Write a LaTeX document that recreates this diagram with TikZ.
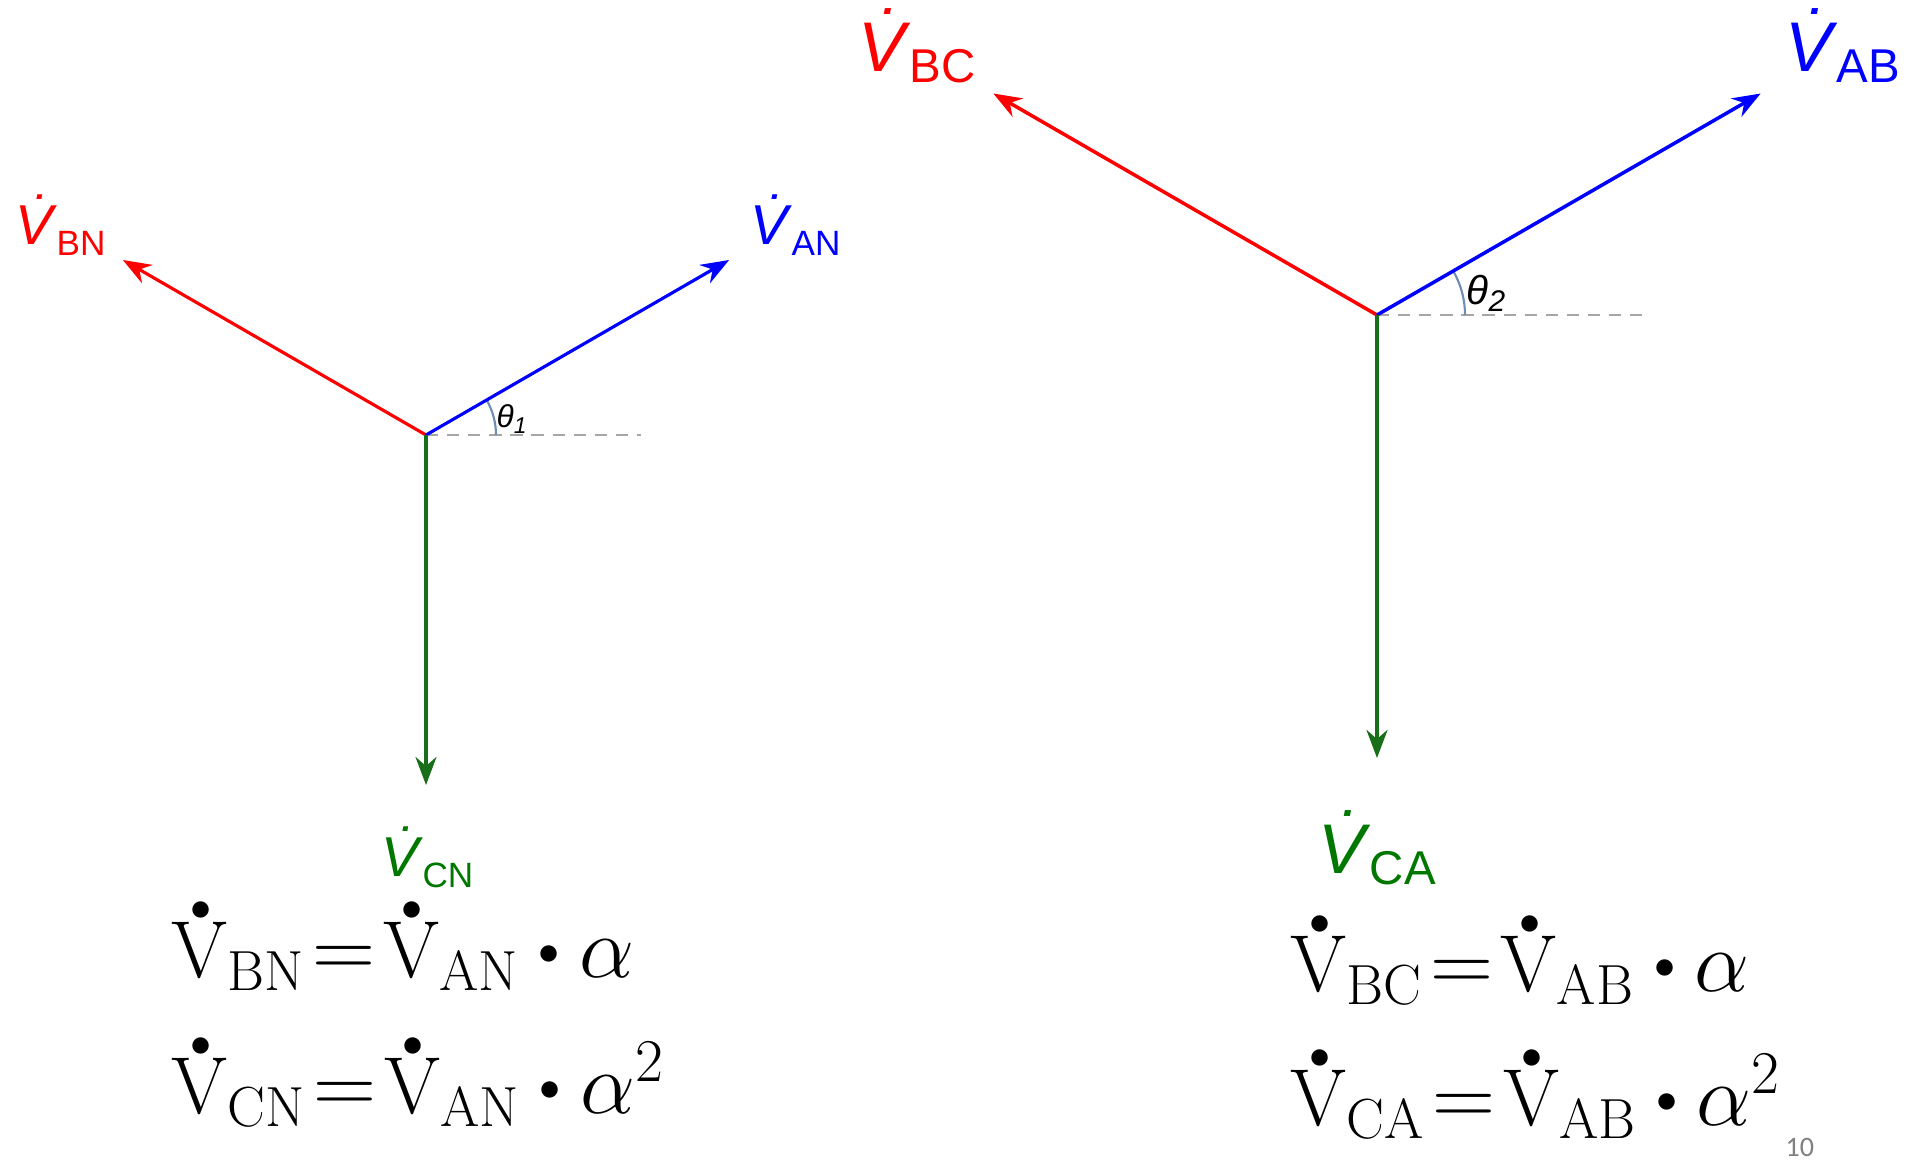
\documentclass[tikz,border=0pt]{standalone}
\usepackage{fontspec}
\usepackage{amsmath}
\usetikzlibrary{arrows.meta}
\newfontfamily\arialf{Liberation Sans}
\newfontfamily\calf{Carlito}
\definecolor{vred}{RGB}{255,0,0}
\definecolor{vblue}{RGB}{0,0,255}
\definecolor{vgreen}{RGB}{25,110,25}
\definecolor{tgreen}{RGB}{0,120,0}
\definecolor{angcol}{RGB}{110,140,180}
% phaseur : taille de V, taille de l'indice, indice
\newcommand{\ph}[3]{{\fontsize{#1}{#1}\selectfont\itshape\accent"02D9 V\kern0.06em}%
  \raisebox{-3.2pt}{\fontsize{#2}{#2}\selectfont #3}}
\newcommand{\Vm}{\mathrm{\rlap{\kern0.23em\raisebox{0.7em}{$\scriptscriptstyle\bullet$}}V}}
\newcommand{\mdot}{\mathbin{\vcenter{\hbox{$\scriptscriptstyle\bullet$}}}}
\newcommand{\eq}{\mathrel{\mkern-3.5mu=\mkern-3.5mu}}

\begin{document}
\begin{tikzpicture}[font=\arialf,
  vec/.style={line width=0.9pt, -{Stealth[length=8pt,width=6pt]}},
  refline/.style={gray!70, line width=0.6pt, dash pattern=on 3.5pt off 2.5pt},
  angarc/.style={angcol, line width=0.6pt},
  lbl/.style={inner sep=0pt, anchor=base west},
  eqn/.style={inner sep=0pt, anchor=base west, font=\fontsize{23}{27}\selectfont}]

\useasboundingbox (0,0) rectangle (19.14,11.59);

% --- Dimensions ---
\def\La{3.50}
\def\Lb{4.43}

% --- Origines ---
\coordinate (O1) at (4.26,7.24);
\coordinate (O2) at (13.77,8.44);

% --- Extremites des vecteurs ---
\coordinate (AN) at ([shift={(30:\La)}]O1);
\coordinate (BN) at ([shift={(150:\La)}]O1);
\coordinate (CN) at ([shift={(270:\La)}]O1);
\coordinate (H1) at ([shift={(0:2.15)}]O1);
\coordinate (AB) at ([shift={(30:\Lb)}]O2);
\coordinate (BC) at ([shift={(150:\Lb)}]O2);
\coordinate (CA) at ([shift={(270:\Lb)}]O2);
\coordinate (H2) at ([shift={(0:2.71)}]O2);

% --- Axes de reference et angles ---
\draw[refline] (O1) -- (H1);
\draw[refline] (O2) -- (H2);
\draw[angarc] ([shift={(0:0.70)}]O1) arc[start angle=0, end angle=30, radius=0.70];
\draw[angarc] ([shift={(0:0.88)}]O2) arc[start angle=0, end angle=30, radius=0.88];

% --- Tensions simples ---
\draw[vec, vred]   (O1) -- (BN);
\draw[vec, vblue]  (O1) -- (AN);
\draw[vec, vgreen] (O1) -- (CN);

% --- Tensions composees ---
\draw[vec, vred, line width=1pt]   (O2) -- (BC);
\draw[vec, vblue, line width=1pt]  (O2) -- (AB);
\draw[vec, vgreen, line width=1pt] (O2) -- (CA);

% --- Etiquettes des vecteurs ---
\node[lbl, vred]   (lBN) at (0.15,9.15)  {\ph{16}{10}{BN}};
\node[lbl, vblue]  (lAN) at (7.50,9.15)  {\ph{16}{10}{AN}};
\node[lbl, tgreen] (lCN) at (3.81,2.83)  {\ph{16}{10}{CN}};
\node[lbl, vred]   (lBC) at (8.58,10.88) {\ph{20}{13.5}{BC}};
\node[lbl, vblue]  (lAB) at (17.85,10.88) {\ph{20}{13.5}{AB}};
\node[lbl, tgreen] (lCA) at (13.18,2.86) {\ph{20}{13.5}{CA}};

% --- Angles ---
\node[anchor=west, inner sep=0pt, font=\arialf\fontsize{9}{9}\selectfont] (th1) at (4.96,7.40)
  {\itshape θ\raisebox{-1.5pt}{\fontsize{6.5}{6.5}\selectfont 1}};
\node[anchor=west, inner sep=0pt, font=\arialf\fontsize{11.5}{11.5}\selectfont] (th2) at (14.66,8.66)
  {\itshape θ\raisebox{-2pt}{\fontsize{8.5}{8.5}\selectfont 2}};

% --- Relations ---
\node[eqn] (eqBN) at (1.71,1.82)  {$\Vm_{\mathrm{BN}}\eq\Vm_{\mathrm{AN}}\mdot\alpha$};
\node[eqn] (eqCN) at (1.71,0.46)  {$\Vm_{\mathrm{CN}}\eq\Vm_{\mathrm{AN}}\mdot\alpha^2$};
\node[eqn] (eqBC) at (12.90,1.68) {$\Vm_{\mathrm{BC}}\eq\Vm_{\mathrm{AB}}\mdot\alpha$};
\node[eqn] (eqCA) at (12.90,0.34) {$\Vm_{\mathrm{CA}}\eq\Vm_{\mathrm{AB}}\mdot\alpha^2$};

% --- Numero de page ---
\node[lbl, gray, font=\calf\fontsize{8}{8}\selectfont] (page) at (17.85,0.03) {10};

\end{tikzpicture}
\end{document}
